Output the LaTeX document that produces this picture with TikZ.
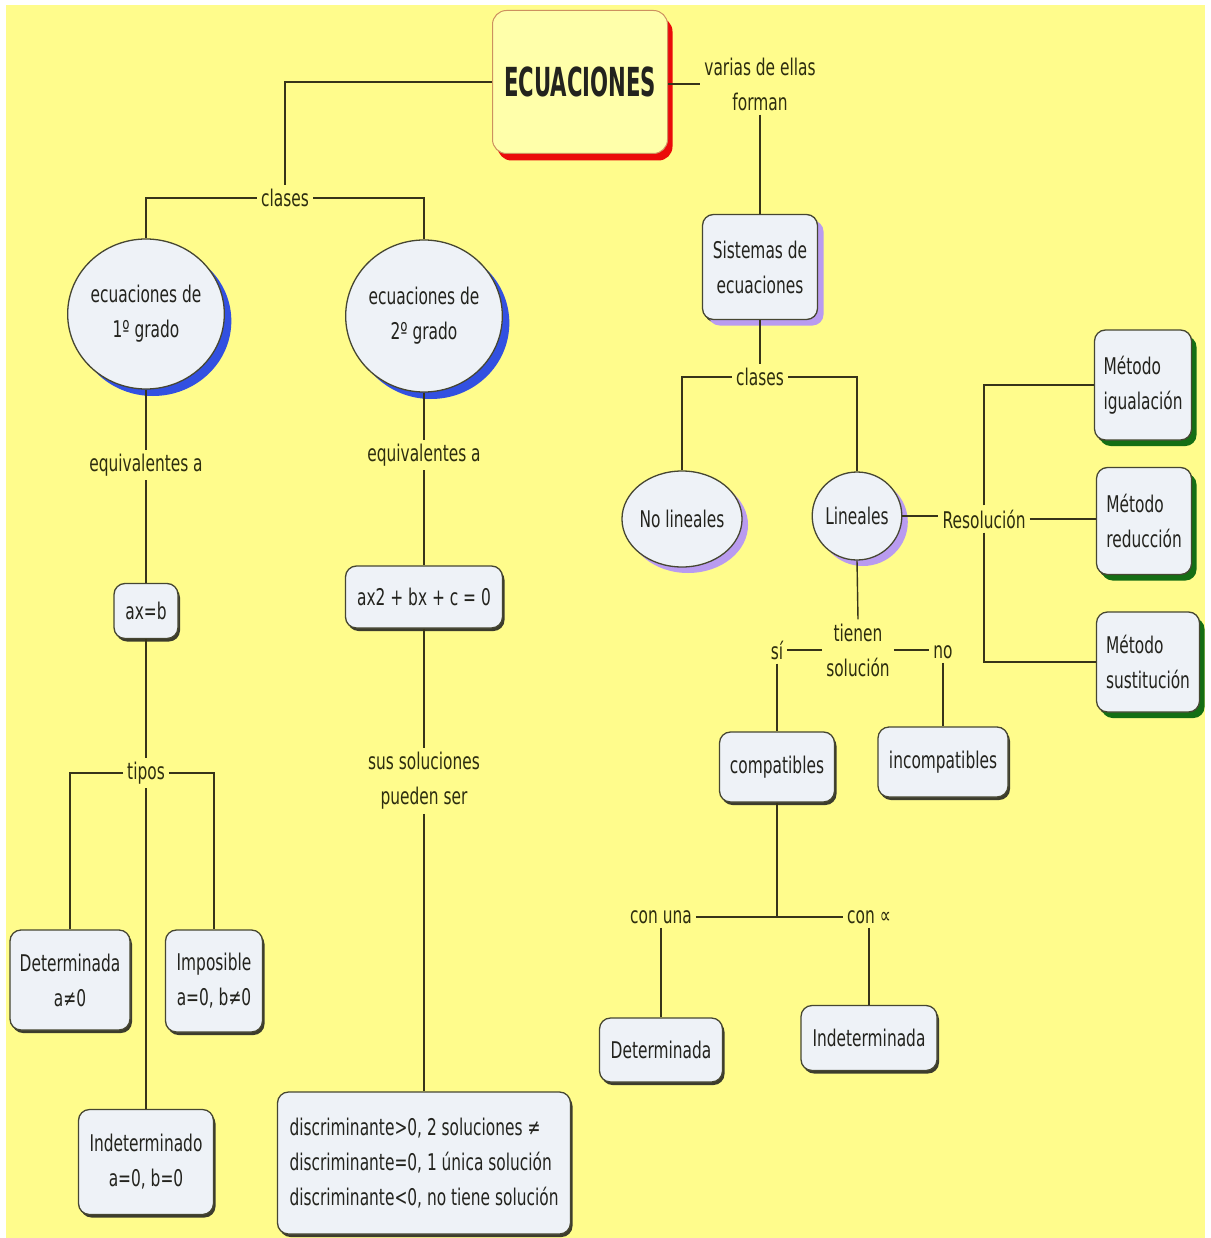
\documentclass[tikz,border=0pt]{standalone}
\usepackage{fontspec}
\setmainfont{DejaVu Sans}[FakeStretch=0.67]
\newfontfamily\titlefont{DejaVu Sans}[FakeStretch=0.53]
\usetikzlibrary{shapes.geometric,shadows}

\definecolor{paper}{RGB}{255,252,140}
\definecolor{boxfill}{RGB}{238,242,247}
\definecolor{boxline}{RGB}{70,70,50}
\definecolor{linkcol}{RGB}{55,52,25}
\definecolor{inkcol}{RGB}{35,35,30}
\definecolor{labelink}{RGB}{45,45,15}
\definecolor{titlefill}{RGB}{255,255,170}
\definecolor{titleline}{RGB}{205,145,95}
\definecolor{titleshadow}{RGB}{235,10,10}
\definecolor{blueshadow}{RGB}{50,80,225}
\definecolor{lilacshadow}{RGB}{185,155,240}
\definecolor{greenshadow}{RGB}{20,110,20}
\definecolor{darkshadow}{RGB}{60,60,45}

\tikzset{
  every node/.style={font=\fontsize{23}{35}\selectfont, text=inkcol},
  box/.style={draw=boxline, line width=1.3pt, fill=boxfill, rounded corners=11pt,
    align=center, inner sep=2pt,
    drop shadow={shadow xshift=2pt, shadow yshift=-3pt, fill=darkshadow, opacity=1}},
  bubble/.style={ellipse, draw=boxline, line width=1.3pt, fill=boxfill,
    align=center, inner sep=0pt},
  blueshade/.style={drop shadow={shadow xshift=7pt, shadow yshift=-7pt, fill=blueshadow, opacity=1}},
  lilacshade/.style={drop shadow={shadow xshift=6pt, shadow yshift=-6pt, fill=lilacshadow, opacity=1}},
  greenshade/.style={drop shadow={shadow xshift=5pt, shadow yshift=-6pt, fill=greenshadow, opacity=1}},
  titlebox/.style={draw=titleline, line width=1pt, fill=titlefill, rounded corners=14pt,
    align=center, inner sep=2pt,
    drop shadow={shadow xshift=5pt, shadow yshift=-7pt, fill=titleshadow, opacity=1}},
  lab/.style={inner sep=4pt, align=center, text=labelink},
  link/.style={draw=linkcol, line width=1.4pt},
}

\begin{document}
\begin{tikzpicture}[x=1pt, y=-1pt]
  % page and paper
  \fill[white] (0,0) rectangle (1210,1238);
  \useasboundingbox (0,0) rectangle (1210,1238);
  \fill[paper] (6,5) rectangle (1205,1238);

  % title
  \node[titlebox, minimum width=175pt, minimum height=143pt] (ecu) at (580,82)
    {\titlefont\bfseries\fontsize{40}{44}\selectfont ECUACIONES};

  % ---------- first-degree branch ----------
  \node[lab] (cl1) at (285,198) {clases};
  \node[bubble, blueshade, minimum width=148pt, minimum height=150pt] (e1) at (146,314)
    {ecuaciones de\\1º grado};
  \node[lab] (eqa1) at (146,465) {equivalentes a};
  \node[box, minimum width=64pt, minimum height=55pt] (axb) at (146,611) {ax=b};
  \node[lab] (tipos) at (146,773) {tipos};
  \node[box, minimum width=120pt, minimum height=100pt] (det1) at (70,980)
    {Determinada\\a≠0};
  \node[box, minimum width=97pt, minimum height=102pt] (imp) at (214,981)
    {Imposible\\a=0, b≠0};
  \node[box, minimum width=135pt, minimum height=105pt] (indet1) at (146,1162)
    {Indeterminado\\a=0, b=0};

  % ---------- second-degree branch ----------
  \node[bubble, blueshade, minimum width=150pt, minimum height=152pt] (e2) at (424,316)
    {ecuaciones de\\2º grado};
  \node[lab] (eqa2) at (424,455) {equivalentes a};
  \node[box, minimum width=157pt, minimum height=62pt] (ax2) at (424,597)
    {ax2 + bx + c = 0};
  \node[lab] (sus) at (424,781) {sus soluciones\\pueden ser};
  \node[box, minimum width=293pt, minimum height=142pt, align=left] (disc) at (424,1163)
    {discriminante>0, 2 soluciones ≠\\discriminante=0, 1 única solución\\discriminante<0, no tiene solución};

  % ---------- systems branch ----------
  \node[lab] (varias) at (760,84) {varias de ellas\\forman};
  \node[box, lilacshade, minimum width=115pt, minimum height=105pt] (sist) at (760,267)
    {Sistemas de\\ecuaciones};
  \node[lab] (cl2) at (760,377) {clases};
  \node[bubble, lilacshade, minimum width=110pt, minimum height=96pt] (nolin) at (682,519)
    {No lineales};
  \node[bubble, lilacshade, minimum width=82pt, minimum height=88pt] (lin) at (857,516)
    {Lineales};
  \node[lab] (resol) at (984,519) {Resolución};
  \node[box, greenshade, minimum width=97pt, minimum height=110pt, align=left] (igual) at (1143,385)
    {Método\\igualación};
  \node[box, greenshade, minimum width=95pt, minimum height=107pt, align=left] (red) at (1144,521)
    {Método\\reducción};
  \node[box, greenshade, minimum width=103pt, minimum height=100pt, align=left] (sust) at (1148,662)
    {Método\\sustitución};

  \node[lab] (tienen) at (858,650) {tienen\\solución};
  \node[lab] (si) at (777,650) {sí};
  \node[lab] (no) at (943,652) {no};
  \node[box, minimum width=115pt, minimum height=70pt] (comp) at (777,767) {compatibles};
  \node[box, minimum width=130pt, minimum height=70pt] (incomp) at (943,762) {incompatibles};
  \node[lab] (conuna) at (661,917) {con una};
  \node[lab] (coninf) at (869,917) {con ∝};
  \node[box, minimum width=123pt, minimum height=64pt] (det2) at (661,1050) {Determinada};
  \node[box, minimum width=136pt, minimum height=65pt] (indet2) at (869,1038) {Indeterminada};

  % ---------- connectors ----------
  \draw[link] (ecu.west) -| (cl1.north);
  \draw[link] (cl1.west) -| (e1.north);
  \draw[link] (cl1.east) -| (e2.north);
  \draw[link] (e1.south) -- (eqa1.north);
  \draw[link] (eqa1.south) -- (axb.north);
  \draw[link] (axb.south) -- (tipos.north);
  \draw[link] (tipos.west) -| (det1.north);
  \draw[link] (tipos.east) -| (imp.north);
  \draw[link] (tipos.south) -- (indet1.north);

  \draw[link] (e2.south) -- (eqa2.north);
  \draw[link] (eqa2.south) -- (ax2.north);
  \draw[link] (ax2.south) -- (sus.north);
  \draw[link] (sus.south) -- (disc.north);

  \draw[link] (ecu.east |- varias.west) -- (varias.west);
  \draw[link] (varias.south) -- (sist.north);
  \draw[link] (sist.south) -- (cl2.north);
  \draw[link] (cl2.west) -| (nolin.north);
  \draw[link] (cl2.east) -| (lin.north);
  \draw[link] (lin.east) -- (lin.east -| resol.west);
  \draw[link] (resol.east) -- (resol.east -| red.west);
  \draw[link] (resol.north) |- (igual.west);
  \draw[link] (resol.south) |- (sust.west);

  \draw[link] (lin.south) -- (tienen.north);
  \draw[link] (tienen.west) -- (si.east);
  \draw[link] (tienen.east) -- (tienen.east -| no.west);
  \draw[link] (si.south) -- (comp.north);
  \draw[link] (no.south) -- (incomp.north);
  \draw[link] (conuna.east) -- (coninf.west);
  \draw[link] (comp.south) -- (comp.south |- conuna.east);
  \draw[link] (conuna.south) -- (det2.north);
  \draw[link] (coninf.south) -- (indet2.north);
\end{tikzpicture}
\end{document}
